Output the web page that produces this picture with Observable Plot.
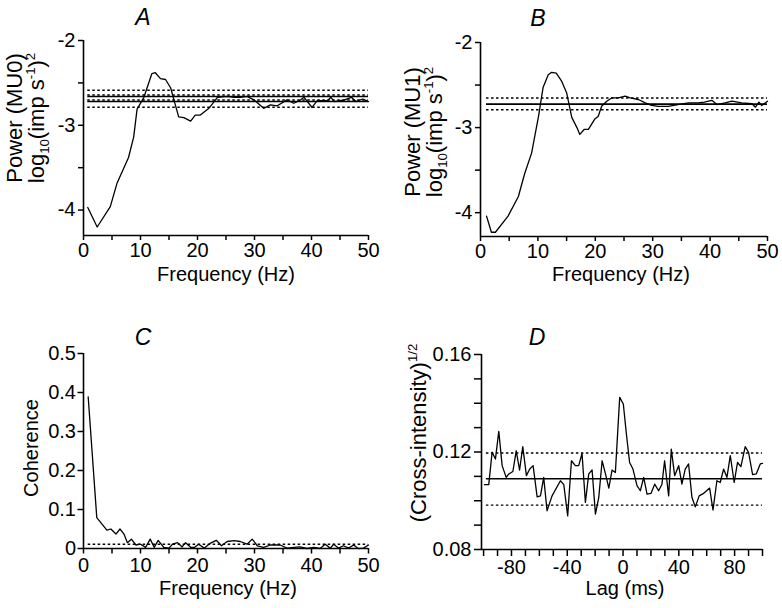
<!DOCTYPE html>
<html><head><meta charset="utf-8">
<script src="https://cdn.jsdelivr.net/npm/d3@7"></script>
<script src="https://cdn.jsdelivr.net/npm/@observablehq/plot@0.6"></script>
<style>
body{margin:0;background:#fff;}
#wrap{position:relative;width:782px;height:608px;overflow:hidden;background:#fff;}
#wrap svg{position:absolute;}
</style></head><body><div id="wrap"></div>
<script>
// ---------- Data ----------
// Panel A: power spectrum MU0
const freqA = [0.75,2.4,4.7,5.9,7.9,8.8,9.4,10.6,12.0,12.6,13.5,14.4,15.3,15.9,16.7,17.6,18.8,19.6,20.5,22.0,23.5,25.2,26.4,27.5,28.7,29.9,31.6,32.8,34.0,35.7,36.9,38.1,38.7,40.1,41.0,42.8,43.4,44.0,45.8,47.0,47.8,49.0,50.0];
const powA = [-3.97,-4.20,-3.96,-3.68,-3.38,-3.14,-2.81,-2.67,-2.39,-2.38,-2.45,-2.46,-2.56,-2.71,-2.90,-2.91,-2.95,-2.88,-2.88,-2.80,-2.67,-2.66,-2.67,-2.67,-2.66,-2.70,-2.80,-2.76,-2.77,-2.70,-2.74,-2.70,-2.67,-2.79,-2.71,-2.71,-2.67,-2.72,-2.70,-2.67,-2.72,-2.69,-2.72];
const solidA = [-2.66,-2.72];
const dottedA = [-2.586,-2.643,-2.702,-2.787];

// Panel B: power spectrum MU1
const freqB = [1.05,1.9,2.6,4.8,6.6,7.7,8.9,10.1,10.9,11.8,12.4,13.2,14.1,15.0,15.9,16.8,17.3,18.1,18.8,19.9,20.5,21.1,22.0,22.9,24.0,25.2,26.1,27.5,28.7,29.8,31.0,32.7,34.4,36.2,37.9,39.0,40.3,41.2,42.6,43.8,45.5,47.3,47.9,48.5,49.0,50.0];
const powB = [-4.04,-4.23,-4.23,-4.04,-3.81,-3.54,-3.30,-2.87,-2.53,-2.38,-2.35,-2.36,-2.45,-2.59,-2.88,-3.00,-3.08,-3.02,-3.02,-2.90,-2.87,-2.75,-2.69,-2.65,-2.65,-2.63,-2.65,-2.67,-2.71,-2.74,-2.75,-2.75,-2.73,-2.71,-2.71,-2.70,-2.68,-2.73,-2.71,-2.69,-2.71,-2.72,-2.76,-2.70,-2.74,-2.69];
const solidB = [-2.724];
const dottedB = [-2.652,-2.79];

// Panel C: coherence
const freqC = [0.82,2.33,3.0,4.1,4.8,5.7,6.4,7.1,7.7,8.4,9.2,10.0,10.9,11.7,12.4,13.1,14.1,15.0,15.6,16.5,17.3,17.9,18.8,19.5,20.2,21.2,22.2,23.3,24.2,25.2,26.4,27.5,28.7,29.6,30.5,31.6,32.8,34.5,35.7,36.9,38.0,39.2,40.4,41.5,42.4,43.3,43.9,44.7,45.6,46.5,47.4,48.2,49.1,50.0];
const cohC = [0.389,0.079,0.067,0.047,0.050,0.037,0.050,0.037,0.015,0.024,0.009,0.011,0.003,0.024,0.003,0.021,0.003,0.001,0.011,0.015,0.004,0.015,0.003,0.003,0.011,0.001,0.013,0.021,0.007,0.018,0.020,0.018,0.011,0.024,0.007,0.003,0.009,0.009,0.001,0.003,0.004,0.0,0.003,0.0,0.011,0.001,0.011,0.001,0.007,0.001,0.009,0.0,0.001,0.009];
const dottedC = [0.011];

// Panel D: cross-intensity
const lagD = [-99.4,-96.3,-93.9,-91.5,-89.1,-86.7,-83.8,-81.9,-79.0,-76.6,-74.2,-71.9,-69.3,-66.9,-64.5,-61.6,-59.2,-56.9,-54.5,-50.9,-44.9,-42.5,-39.7,-37.0,-34.2,-31.8,-29.4,-27.0,-24.6,-22.2,-19.8,-17.4,-15.0,-12.6,-10.2,-7.9,-5.5,-2.4,0.2,2.4,4.7,7.1,10.0,12.4,14.8,17.2,20.0,22.7,25.5,27.9,29.8,32.7,34.6,37.0,39.9,42.2,44.6,47.0,49.4,51.8,54.6,57.7,62.1,64.5,67.3,69.7,72.1,74.5,76.9,79.7,82.1,84.5,87.6,90.0,92.9,95.5,98.4,100];
const valD = [0.1066,0.1066,0.1199,0.1171,0.1285,0.1144,0.1096,0.1110,0.1120,0.1205,0.1126,0.1222,0.1103,0.1130,0.1144,0.1016,0.1020,0.1096,0.0959,0.1020,0.1082,0.1066,0.0938,0.1164,0.1144,0.1144,0.1194,0.0993,0.1110,0.1126,0.0945,0.1014,0.1164,0.1110,0.1052,0.1126,0.1116,0.1424,0.1397,0.1274,0.1157,0.1130,0.1062,0.1041,0.1096,0.1027,0.1030,0.1068,0.1041,0.1068,0.1164,0.1020,0.1212,0.1103,0.1144,0.1068,0.1130,0.1151,0.1014,0.0975,0.1020,0.1030,0.1052,0.0962,0.1082,0.1075,0.1130,0.1096,0.1185,0.1075,0.1157,0.1140,0.1222,0.1199,0.1107,0.1110,0.1151,0.1153];
const solidD = [0.109];
const dottedD = [0.1196,0.0982];
const spanD = [-98, 100];

// Ticks
const freqTicks = [0,10,20,30,40,50];
const freqMinor = [5,15,25,35,45];
const powTicks = [-2,-3,-4];
const powMinor = [-2.5,-3.5];
const cohTicks = [0,0.1,0.2,0.3,0.4,0.5];
const lagTicks = [-80,-40,0,40,80];
const lagMinor = [-100,-90,-70,-60,-50,-30,-20,-10,10,20,30,50,60,70,90,100];
const ciTicks = [0.08,0.12,0.16];
const ciMinor = [0.09,0.10,0.11,0.13,0.14,0.15];

// ---------- Drawing ----------
const FONT = "'Liberation Sans', Arial, Helvetica, sans-serif";
const wrap = document.getElementById("wrap");

function panel(c) {
  const svg = Plot.plot({
    width: c.w, height: c.h,
    marginLeft: c.ml, marginRight: c.mr, marginTop: c.mt, marginBottom: c.mb,
    style: {fontFamily: FONT, fontSize: "20px", color: "#000", background: "transparent", overflow: "visible"},
    x: {domain: c.xd}, y: {domain: c.yd},
    marks: [
      ...c.marks,
      Plot.axisX({ticks: c.xt, tickFormat: c.xf, tickSize: c.ts, tickPadding: c.xp, strokeWidth: 1.5, label: null, fontSize: 20}),
      Plot.axisX({ticks: c.xm, tickFormat: () => "", tickSize: c.ts, strokeWidth: 1.5, label: null}),
      Plot.axisY({ticks: c.yt, tickFormat: c.yf, tickSize: c.ts, tickPadding: c.yp, strokeWidth: 1.5, label: null, fontSize: 20}),
      Plot.axisY({ticks: c.ym, tickFormat: () => "", tickSize: c.ts, strokeWidth: 1.5, label: null}),
      Plot.ruleX([c.xd[0]], {strokeWidth: 1.6}),
      Plot.ruleY([c.yd[0]], {strokeWidth: 1.6})
    ]
  });
  svg.style.left = c.left + "px";
  svg.style.top = c.top + "px";
  wrap.appendChild(svg);
  return svg;
}

function addText(svg, o) {
  const size = o.size || 20;
  const rot = !!o.rotate;
  const bx = rot ? o.x + 0.35 * size : o.x;
  const t = d3.select(svg).append("text")
    .attr("transform", `translate(${bx},${o.y})` + (rot ? " rotate(-90)" : ""))
    .attr("text-anchor", "middle")
    .attr("font-family", FONT)
    .attr("font-size", size)
    .attr("fill", "#000");
  if (o.italic) t.attr("font-style", "italic");
  let off = 0;
  for (const [s, k] of o.parts) {
    const target = k === "sub" ? 0.25 * size : k === "sup" ? -0.38 * size : 0;
    const ts = t.append("tspan").text(s).attr("dy", target - off);
    if (k) ts.attr("font-size", size * 0.6);
    off = target;
  }
}

const line = (xs, ys) => Plot.line(xs.map((x, i) => ({x, y: ys[i]})), {x: "x", y: "y", stroke: "#000", strokeWidth: 1.3});
const refs = (vals, x1, x2, dotted) => Plot.ruleY(vals, {x1, x2, stroke: "#000", strokeWidth: dotted ? 1.4 : 1.6, strokeDasharray: dotted ? "2.5,2.5" : null});
const str = d => String(d);
const logParts = [["log", ""], ["10", "sub"], ["(imp s", ""], ["-1", "sup"], [")", ""], ["2", "sup"]];

// Panel A
const svgA = panel({
  left: 0, top: 0, w: 391, h: 300, ml: 83, mr: 23, mt: 40, mb: 65,
  xd: [0, 50], yd: [-4.3, -2], ts: 5, xp: 2, yp: 3,
  xt: freqTicks, xm: freqMinor, xf: str, yt: powTicks, ym: powMinor, yf: str,
  marks: [
    refs(dottedA, freqA[0], 50, true),
    refs(solidA, freqA[0], 50, false),
    line(freqA, powA)
  ]
});
addText(svgA, {x: 143, y: 25, size: 23, italic: true, parts: [["A", ""]]});
addText(svgA, {x: 14, y: 118, size: 22, rotate: true, parts: [["Power (MU0)", ""]]});
addText(svgA, {x: 36, y: 118, size: 22, rotate: true, parts: logParts});
addText(svgA, {x: 226, y: 281, size: 20, parts: [["Frequency (Hz)", ""]]});

// Panel B
const svgB = panel({
  left: 391, top: 0, w: 391, h: 300, ml: 89, mr: 15, mt: 42, mb: 64,
  xd: [0, 50], yd: [-4.28, -2], ts: 5, xp: 2, yp: 3,
  xt: freqTicks, xm: freqMinor, xf: str, yt: powTicks, ym: powMinor, yf: str,
  marks: [
    refs(dottedB, freqB[0], 50, true),
    refs(solidB, freqB[0], 50, false),
    line(freqB, powB)
  ]
});
addText(svgB, {x: 147, y: 26, size: 23, italic: true, parts: [["B", ""]]});
addText(svgB, {x: 21, y: 132, size: 22, rotate: true, parts: [["Power (MU1)", ""]]});
addText(svgB, {x: 43, y: 132, size: 22, rotate: true, parts: logParts});
addText(svgB, {x: 230, y: 281, size: 20, parts: [["Frequency (Hz)", ""]]});

// Panel C
const svgC = panel({
  left: 0, top: 300, w: 391, h: 308, ml: 83, mr: 23, mt: 53, mb: 60,
  xd: [0, 50], yd: [0, 0.5], ts: 5.5, xp: 4, yp: 2,
  xt: freqTicks, xm: freqMinor, xf: str, yt: cohTicks, ym: [], yf: d => d === 0 ? "0" : d.toFixed(1),
  marks: [
    refs(dottedC, freqC[0], 50, true),
    line(freqC, cohC)
  ]
});
addText(svgC, {x: 143, y: 45, size: 23, italic: true, parts: [["C", ""]]});
addText(svgC, {x: 31, y: 148, size: 20, rotate: true, parts: [["Coherence", ""]]});
addText(svgC, {x: 228, y: 295, size: 20, parts: [["Frequency (Hz)", ""]]});

// Panel D
const svgD = panel({
  left: 391, top: 300, w: 391, h: 308, ml: 90, mr: 20, mt: 54, mb: 59,
  xd: [-101.5, 100], yd: [0.08, 0.16], ts: 7, xp: 3, yp: 3,
  xt: lagTicks, xm: lagMinor, xf: str, yt: ciTicks, ym: ciMinor, yf: d => d.toFixed(2),
  marks: [
    refs(dottedD, spanD[0], spanD[1], true),
    refs(solidD, spanD[0], spanD[1], false),
    line(lagD, valD)
  ]
});
addText(svgD, {x: 146, y: 45, size: 23, italic: true, parts: [["D", ""]]});
addText(svgD, {x: 27, y: 133, size: 22, rotate: true, parts: [["(Cross-intensity)", ""], ["1/2", "sup"]]});
addText(svgD, {x: 234, y: 295, size: 20, parts: [["Lag (ms)", ""]]});
</script>
</body></html>
